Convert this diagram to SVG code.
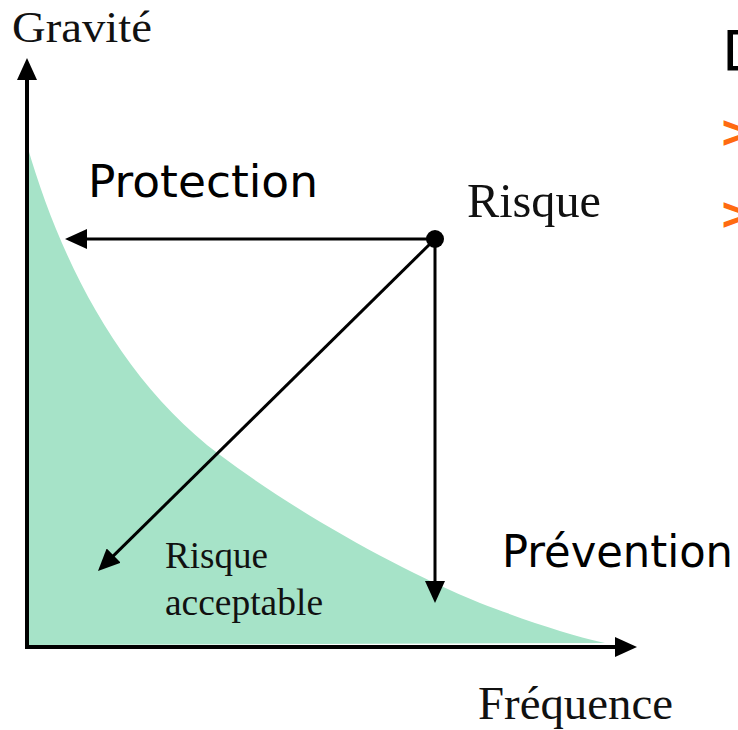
<svg xmlns="http://www.w3.org/2000/svg" width="738" height="730" viewBox="0 0 738 730">
  <style>
    .serif { font-family: "Liberation Serif", "Times New Roman", serif; fill: #111; }
    .comic { font-family: "Comic Sans MS", "DejaVu Sans", sans-serif; fill: #000; }
    .ln { stroke: #000; stroke-width: 3; fill: none; }
    .axis { stroke: #000; stroke-width: 4; fill: none; }
  </style>
  <defs>
    <marker id="arr" markerUnits="userSpaceOnUse" markerWidth="22" markerHeight="20" refX="14" refY="10" orient="auto">
      <path d="M0,0 L22,10 L0,20 Z" fill="#000"/>
    </marker>
  </defs>
  <rect width="738" height="730" fill="#fff"/>

  <g id="zone-acceptable">
    <path d="M27,145 C60,260 120,380 220,455 C300,515 400,570 480,603 C530,622 570,635 605,643 L27,645 Z" fill="#a6e3c8"/>
  </g>

  <g id="axes">
    <line class="axis" x1="27" y1="649" x2="27" y2="66" marker-end="url(#arr)"/>
    <line class="axis" x1="25" y1="647" x2="629" y2="647" marker-end="url(#arr)"/>
    <text class="serif" x="12" y="42" font-size="44" textLength="140" lengthAdjust="spacingAndGlyphs">Gravité</text>
    <text class="serif" x="478" y="719" font-size="47" textLength="195" lengthAdjust="spacingAndGlyphs">Fréquence</text>
  </g>

  <g id="connectors">
    <line class="ln" x1="435" y1="239" x2="73" y2="239" marker-end="url(#arr)"/>
    <line class="ln" x1="435" y1="239" x2="435" y2="595" marker-end="url(#arr)"/>
    <line class="ln" x1="435" y1="239" x2="103.7" y2="565.4" marker-end="url(#arr)"/>
  </g>

  <g id="risque">
    <circle cx="435" cy="239" r="9" fill="#000"/>
    <text class="serif" x="467" y="217" font-size="48" textLength="134" lengthAdjust="spacingAndGlyphs">Risque</text>
  </g>

  <g id="protection">
    <text class="comic" x="88" y="197" font-size="44" textLength="230" lengthAdjust="spacingAndGlyphs">Protection</text>
  </g>

  <g id="prevention">
    <text class="comic" x="502" y="567" font-size="44" textLength="231" lengthAdjust="spacingAndGlyphs">Prévention</text>
  </g>

  <g id="risque-acceptable">
    <text class="serif" x="165" y="568" font-size="37" textLength="103" lengthAdjust="spacingAndGlyphs">Risque</text>
    <text class="serif" x="165" y="615" font-size="37" textLength="158" lengthAdjust="spacingAndGlyphs">acceptable</text>
  </g>

  <g id="cut-text">
    <text class="comic" x="722" y="70" font-size="56">D</text>
    <text x="719" y="147" font-family="DejaVu Sans, sans-serif" font-size="44" font-weight="bold" fill="#ff6a10">&gt;</text>
    <text x="719" y="229" font-family="DejaVu Sans, sans-serif" font-size="44" font-weight="bold" fill="#ff6a10">&gt;</text>
  </g>
</svg>
